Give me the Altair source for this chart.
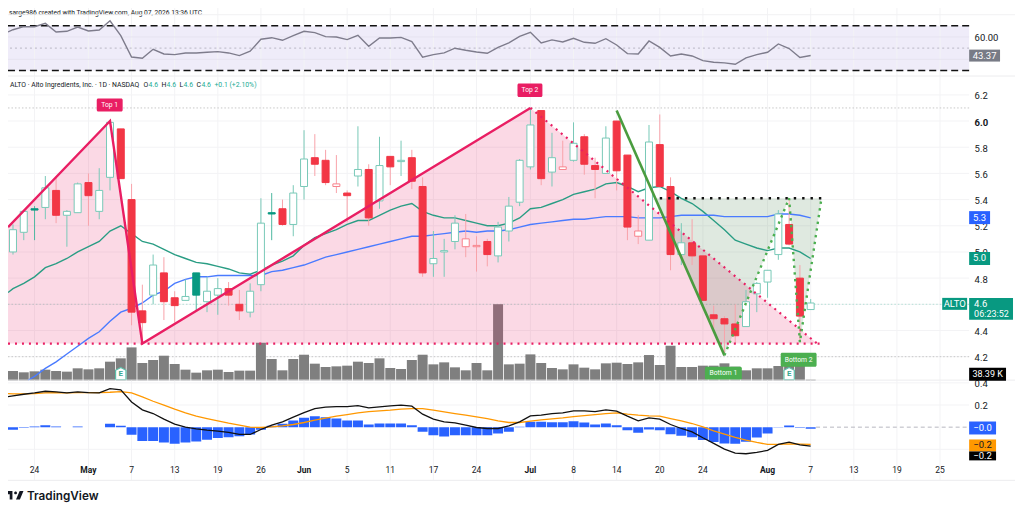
import altair as alt
import pandas as pd

FONT = "Roboto"
TEXT = "#131722"
# ---------- values ----------
body_top = [5.17,5.31,5.33,5.49,5.47,5.31,5.52,5.53,5.47,5.99,5.94,5.40,4.55,4.90,4.84,4.65,4.66,4.84,4.70,4.72,4.72,4.60,4.70,5.22,5.30,5.33,5.45,5.71,5.72,5.70,5.52,
            5.45,5.63,5.63,5.66,5.73,5.70,5.72,5.50,4.95,5.01,5.22,5.10,5.05,5.08,5.19,5.35,5.70,5.97,6.08,5.72,5.65,5.83,5.88,5.66,5.87,6.00,5.74,5.16,5.84,5.82,
            5.50,5.07,5.07,4.97,4.52,4.49,4.45,4.62,4.76,4.86,5.29,5.21,4.80,4.61]
body_bot = [5.00,5.15,5.32,5.34,5.28,5.28,5.30,5.43,5.31,5.57,5.56,4.54,4.46,4.67,4.62,4.59,4.63,4.67,4.62,4.67,4.67,4.55,4.54,4.75,5.29,5.21,5.21,5.50,5.67,5.53,5.50,
            5.43,5.58,5.26,5.39,5.65,5.69,5.54,4.84,4.91,5.00,5.08,5.04,5.04,4.98,4.97,5.16,5.38,5.65,5.56,5.61,5.63,5.70,5.67,5.63,5.60,5.62,5.19,5.12,5.09,5.50,
            4.98,4.98,4.97,4.63,4.49,4.45,4.36,4.43,4.68,4.77,4.98,5.06,4.51,4.56]
high = [5.21,5.32,5.35,5.58,5.58,5.32,5.53,5.60,5.64,6.00,5.94,5.52,4.75,4.98,4.96,4.70,4.79,4.84,4.81,4.80,4.77,4.71,4.76,5.41,5.45,5.40,5.51,5.93,5.90,5.78,5.74,
        5.47,5.96,5.67,5.88,5.73,5.85,5.78,5.57,5.16,5.10,5.28,5.29,5.12,5.10,5.23,5.42,5.71,6.10,6.08,5.91,5.85,5.99,5.90,5.72,5.96,6.00,5.74,5.28,5.97,6.05,
        5.57,5.22,5.25,4.97,4.59,4.51,4.60,4.71,4.77,4.86,5.32,5.41,4.90,4.64]
low = [4.98,5.09,5.09,5.25,5.22,5.04,5.30,5.20,5.25,5.47,5.56,4.44,4.30,4.60,4.48,4.46,4.63,4.55,4.54,4.52,4.59,4.48,4.50,4.70,5.09,5.20,5.12,5.40,5.58,5.51,5.45,
       5.23,5.50,5.20,5.33,5.51,5.58,5.48,4.81,4.81,4.81,5.02,4.96,4.85,4.89,4.92,5.08,5.35,5.63,5.51,5.50,5.63,5.69,5.59,5.41,5.60,5.47,5.09,5.06,5.09,5.49,
       4.86,4.90,4.90,4.63,4.40,4.21,4.30,4.43,4.54,4.65,4.94,5.05,4.31,4.56]
kind = ["u","u","g","u","d","u","u","d","u","u","d","d","d","u","d","d","u","g","u","u","d","d","u","u","g","d","u","u","d","d","h",
        "d","u","d","u","d","u","d","d","u","u","u","h","h","d","u","u","u","u","d","u","h","u","d","d","u","d","d","h","u","d",
        "d","u","d","d","d","d","d","u","u","u","u","d","d","u"]
volume_k = [371,320,358,422,371,346,474,435,474,730,858,1280,678,794,960,640,422,307,397,422,333,384,384,1459,832,397,832,998,653,525,550,
            576,730,678,858,486,448,794,998,627,704,512,397,678,397,2944,627,653,1011,678,486,435,627,499,435,666,691,640,704,986,602,
            1344,525,525,576,576,666,538,397,474,474,563,640,730,38.39]
ema_fast = [4.69,4.72,4.76,4.81,4.88,4.91,4.95,5.00,5.04,5.08,5.16,5.20,5.14,5.08,5.06,5.02,4.98,4.95,4.92,4.91,4.89,4.87,4.84,4.83,4.86,4.90,4.93,4.97,5.05,5.11,5.14,5.17,
            5.21,5.24,5.24,5.28,5.32,5.35,5.37,5.31,5.28,5.26,5.26,5.24,5.22,5.20,5.20,5.22,5.26,5.33,5.34,5.37,5.40,5.44,5.46,5.48,5.52,5.53,5.50,5.46,5.49,5.50,
            5.46,5.41,5.37,5.31,5.24,5.17,5.09,5.06,5.03,5.01,5.03,5.03,5.00,4.95]
ema_slow_idx = [1.4] + list(range(2, 75))
ema_slow = [4.02,4.05,4.11,4.16,4.22,4.28,4.34,4.39,4.47,4.54,4.57,4.61,4.67,4.70,4.76,4.79,4.81,4.81,4.82,4.82,4.82,4.82,4.82,4.85,4.86,4.88,4.90,4.93,4.96,4.98,
            5.00,5.02,5.04,5.06,5.08,5.10,5.12,5.12,5.13,5.14,5.15,5.16,5.15,5.16,5.16,5.17,5.19,5.21,5.22,5.23,5.24,5.25,5.25,5.26,5.27,5.27,5.27,5.26,5.26,5.26,
            5.27,5.28,5.28,5.28,5.28,5.27,5.27,5.27,5.27,5.27,5.29,5.29,5.28,5.26]
rsi = [64.4,66.4,69.1,69.1,72.1,64.4,65.0,68.8,65.3,66.1,74.4,61.1,42.1,41.0,49.0,44.8,44.2,45.7,45.7,46.3,46.9,45.7,43.3,47.2,57.9,59.3,57.0,61.1,65.0,63.8,60.2,59.9,
       57.6,61.4,51.6,59.0,59.0,59.6,55.8,41.9,44.2,45.7,49.9,48.1,46.6,45.4,50.7,54.6,
       60.5,64.1,54.6,57.3,55.5,58.7,55.2,54.3,58.4,52.8,45.1,44.8,56.4,50.7,43.0,44.8,43.0,38.9,37.4,36.8,35.6,41.3,44.2,46.3,53.7,49.6,41.6,43.37]
hist = [-.024,-.006,.006,.018,.006,0,.006,0,0,.03,.012,-.069,-.126,-.126,-.138,-.15,-.138,-.129,-.114,-.099,-.09,-.081,-.066,-.024,.012,.03,.06,.084,.099,.09,.078,
        .06,.06,.024,.033,.033,.033,.018,-.042,-.072,-.084,-.072,-.072,-.072,-.072,-.057,-.042,.003,.048,.048,.045,.045,.054,.042,.024,.033,.018,-.027,-.051,-.021,-.027,
        -.063,-.078,-.09,-.117,-.135,-.147,-.15,-.132,-.093,-.057,-.003,.015,-.006,-.015]
macd = [.275,.282,.297,.309,.324,.318,.309,.318,.312,.309,.348,.336,.228,.156,.123,.072,.027,0,-.015,-.027,-.036,-.048,-.066,-.066,-.021,.018,.048,.09,.132,.168,.18,.186,
        .186,.195,.174,.183,.192,.198,.189,.117,.072,.048,.039,.018,-.003,-.012,-.012,.012,.048,.102,.108,.123,.129,.147,.147,.141,.156,.144,.099,.057,.084,.072,
        .024,-.012,-.042,-.096,-.147,-.198,-.234,-.24,-.228,-.21,-.156,-.135,-.159,-.171]
signal = [.303,.30,.30,.303,.309,.312,.309,.312,.312,.312,.315,.321,.309,.273,.234,.198,.162,.129,.099,.078,.057,.036,.018,0,-.003,.003,.012,.024,.042,.063,.081,.099,
          .114,.129,.141,.147,.153,.162,.168,.168,.153,.138,.123,.108,.093,.078,.057,.042,.042,.054,.066,.075,.084,.096,.105,.114,.123,.129,.117,.108,.102,.099,
          .078,.057,.033,.003,-.033,-.063,-.093,-.117,-.138,-.156,-.156,-.15,-.153,-.156]
tick_idx = [2,7,11,15,19,23,27,31,35,39,43,48,52,56,60,64,70,74,78,82,86]
tick_txt = ["24","May","7","13","19","26","Jun","5","11","17","24","Jul","8","14","20","24","Aug","7","13","19","25"]
price_ticks = [4.2,4.4,4.6,4.8,5.0,5.2,5.4,5.6,5.8,6.0,6.2]
top_x, top_y = [-0.46,9,12,48,74.6], [5.19,6.0,4.3,6.1,4.3]
bot_x, bot_y = [59.6,66,72,73,75], [5.41,4.21,5.41,4.31,5.41]

# ---------- layout constants ----------
W = 964
XD = [-0.463, 88.7]
RSI_TOP, MAIN_TOP, MACD_TOP = 8, 77, 382
X = lambda f: alt.X(f, type="quantitative", scale=alt.Scale(domain=XD, nice=False, zero=False, padding=0), axis=None)
PRICE_D = [4.017, 6.34]
RSI_D = [24.67, 86.0]
MACD_D = [-0.48, 0.42]
VOL_D = [0, 11712]
Yp = lambda f: alt.Y(f, type="quantitative", scale=alt.Scale(domain=PRICE_D, nice=False, zero=False), axis=None)
Yr = lambda f: alt.Y(f, type="quantitative", scale=alt.Scale(domain=RSI_D, nice=False, zero=False), axis=None)
Ym = lambda f: alt.Y(f, type="quantitative", scale=alt.Scale(domain=MACD_D, nice=False, zero=False), axis=None)
ONE = alt.Data(values=[{"a": 1}])
LEFT_I = [-0.46] + list(range(0, 75))

def box(x0, x1, y0, y1, fill, top, r=0):
    return alt.Chart(ONE).mark_rect(fill=fill, cornerRadius=r).encode(
        x=alt.value(x0 - 8), x2=alt.value(x1 - 8), y=alt.value(y0 - top), y2=alt.value(y1 - top))

def txt(s, x, y, top, color=TEXT, size=9.5, align="left", weight="normal", font=FONT):
    return alt.Chart(ONE).mark_text(text=s, color=color, fontSize=size, align=align, baseline="middle",
                                    fontWeight=weight, font=font).encode(x=alt.value(x - 8), y=alt.value(y - top))

def hrule(x0, x1, y, top, color="#ececee"):
    return alt.Chart(ONE).mark_rule(color=color, strokeWidth=1).encode(
        x=alt.value(x0 - 8), x2=alt.value(x1 - 8), y=alt.value(y - top))

idx = list(range(75))
cd = pd.DataFrame({"i": idx, "t": body_top, "b": body_bot, "h": high, "l": low, "k": kind, "v": volume_k,
                   "hist": hist, "z": [0] * 75})
ticks = pd.DataFrame({"i": tick_idx, "txt": tick_txt})
months = ticks[ticks.txt.isin(["May", "Jun", "Jul", "Aug"])]
days = ticks[~ticks.txt.isin(["May", "Jun", "Jul", "Aug"])]
vgrid = alt.Chart(ticks).mark_rule(color="#f3f3f5", strokeWidth=1).encode(x=X("i"))

def yaxis(values, fmt, bold=False):
    kw = dict(orient="right", values=values, format=fmt, title=None, domain=False, ticks=False, grid=False,
              labelColor=TEXT, labelFontSize=9.5, labelFont=FONT, labelPadding=5, labelOverlap=False, labelOffset=1)
    if bold:
        kw["labelFontWeight"] = {"condition": {"test": "datum.value == 6", "value": "bold"}, "value": "normal"}
    return alt.Axis(**kw)

# ---------- RSI panel ----------
r_df = pd.DataFrame({"i": LEFT_I, "v": rsi})
r_bg = alt.Chart(pd.DataFrame({"a": [30], "b": [70]})).mark_rect(color="#efecf9").encode(
    y=Yr("a"), y2="b", x=alt.value(0), x2=alt.value(W))
r_axis = alt.Chart(pd.DataFrame({"v": [60, 40]})).mark_rule(color="#e6e3f0").encode(
    y=alt.Y("v:Q", scale=alt.Scale(domain=RSI_D, nice=False, zero=False), axis=yaxis([60], ".2f")))
r_mid = alt.Chart(pd.DataFrame({"v": [50]})).mark_rule(color="#b8b6c4", strokeDash=[2, 3]).encode(y=Yr("v"))
r_lim = alt.Chart(pd.DataFrame({"v": [30, 70]})).mark_rule(color="#111111", strokeWidth=1.5, strokeDash=[7, 4]).encode(y=Yr("v"))
r_line = alt.Chart(r_df).mark_line(color="#7e7c8c", strokeWidth=1.4, clip=True).encode(x=X("i"), y=Yr("v"))
rsi_panel = alt.layer(
    r_bg, vgrid, r_axis, r_mid, r_lim, r_line,
    box(972, 1003, 50, 62, "#787b86", RSI_TOP),
    txt("43.37", 987.5, 56.5, RSI_TOP, color="#ffffff", align="center"),
    txt("sarge986 created with TradingView.com, Aug 07, 2026 13:36 UTC", 9, 13, RSI_TOP, size=6.7),
    hrule(8, 1018, 15, RSI_TOP, color="#f1f1f3"),
    hrule(8, 1018, 76.5, RSI_TOP),
).resolve_scale(y="independent").properties(width=W, height=MAIN_TOP - RSI_TOP)

# ---------- main panel ----------
m_axis = alt.Chart(pd.DataFrame({"v": price_ticks})).mark_rule(color="#f3f3f5").encode(
    y=alt.Y("v:Q", scale=alt.Scale(domain=PRICE_D, nice=False, zero=False), axis=yaxis(price_ticks, ".1f", bold=True)))
lvl = alt.Chart(pd.DataFrame({"v": [6.1, 4.2]})).mark_rule(color="#c8c8c8", strokeDash=[1.5, 2]).encode(y=Yp("v"))
last = alt.Chart(pd.DataFrame({"v": [4.6]})).mark_rule(color="#b5e0d6", strokeDash=[1.5, 2]).encode(y=Yp("v"))
vol = alt.Chart(cd).mark_bar(color="#7f7f7f", size=10).encode(
    x=X("i"), y=alt.Y("v:Q", scale=alt.Scale(domain=VOL_D, nice=False, zero=False), axis=None))

top_df = pd.DataFrame({"i": top_x, "p": top_y, "base": [4.3] * len(top_x)})
bot_df = pd.DataFrame({"i": bot_x, "p": bot_y, "base": [5.41] * len(bot_x)})
top_fill = alt.Chart(top_df).mark_area(color="#e91e63", opacity=0.17, clip=True).encode(x=X("i"), y=Yp("p"), y2="base")
bot_fill = alt.Chart(bot_df).mark_area(color="#3f7a4a", opacity=0.17).encode(x=X("i"), y=Yp("p"), y2="base")

e1_df = pd.DataFrame({"i": LEFT_I, "v": ema_fast})
e2_df = pd.DataFrame({"i": ema_slow_idx, "v": ema_slow})
e1 = alt.Chart(e1_df).mark_line(color="#2a9d84", strokeWidth=1.4, clip=True).encode(x=X("i"), y=Yp("v"))
e2 = alt.Chart(e2_df).mark_line(color="#4a7bff", strokeWidth=1.4, clip=True).encode(x=X("i"), y=Yp("v"))

K = ["u", "d", "h", "g"]
wick = alt.Chart(cd).mark_rule(strokeWidth=1).encode(
    x=X("i"), y=Yp("l"), y2="h",
    color=alt.Color("k:N", scale=alt.Scale(domain=K, range=["#78c9b8", "#f8a3aa", "#f8a3aa", "#4db8a0"]), legend=None))
body = alt.Chart(cd).mark_bar(size=7, strokeWidth=1).encode(
    x=X("i"), y=Yp("t"), y2="b",
    fill=alt.Fill("k:N", scale=alt.Scale(domain=K, range=["#ffffff", "#f23645", "#ffffff", "#089981"]), legend=None),
    stroke=alt.Stroke("k:N", scale=alt.Scale(domain=K, range=["#78c9b8", "#f23645", "#f8828c", "#089981"]), legend=None))

seg = lambda xs, ys: pd.DataFrame({"i": xs, "p": ys})
zig = alt.Chart(seg(top_x[:4], top_y[:4])).mark_line(color="#e91e63", strokeWidth=2.4, clip=True).encode(x=X("i"), y=Yp("p"))
pink_dots = alt.Chart(seg(top_x[3:], top_y[3:])).mark_line(color="#e91e63", strokeWidth=2.2, strokeDash=[2, 4.6]).encode(x=X("i"), y=Yp("p"))
floor = alt.Chart(seg([-0.463, 75], [4.3, 4.3])).mark_line(color="#e91e63", strokeWidth=2.2, strokeDash=[2, 5], clip=True).encode(x=X("i"), y=Yp("p"))
green_solid = alt.Chart(seg([56, 66], [6.08, 4.21])).mark_line(color="#4a9c3f", strokeWidth=2.6).encode(x=X("i"), y=Yp("p"))
green_dots = alt.Chart(seg(bot_x[1:], bot_y[1:])).mark_line(color="#4caf50", strokeWidth=2.4, strokeDash=[2.4, 4.4]).encode(x=X("i"), y=Yp("p"))
black_dots = alt.Chart(seg([60, 75], [5.41, 5.41])).mark_line(color="#111111", strokeWidth=2.4, strokeDash=[2.4, 6]).encode(x=X("i"), y=Yp("p"))

HOUSE = "M0,-1 L0.85,-0.55 L0.85,1 L-0.85,1 L-0.85,-0.55 Z"
earn = pd.DataFrame({"i": [10, 72]})
earn_m = alt.Chart(earn).mark_point(shape=HOUSE, filled=True, fill="#ffffff", stroke="#5cbfa9", strokeWidth=1.2, opacity=1, size=150).encode(
    x=X("i"), y=alt.value(375 - MAIN_TOP))
earn_t = alt.Chart(earn).mark_text(text="E", color="#3aa88f", fontSize=8, fontWeight="bold", font=FONT, baseline="middle").encode(
    x=X("i"), y=alt.value(375.5 - MAIN_TOP))

hdr = [("ALTO · Alto Ingredients, Inc. · 1D · NASDAQ", 10, TEXT), ("O", 144, TEXT), ("4.6", 149, "#22ab94"),
       ("H", 162, TEXT), ("4.6", 167, "#22ab94"), ("L", 180, TEXT), ("4.6", 184, "#22ab94"),
       ("C", 197, TEXT), ("4.6", 202, "#22ab94"), ("+0.1 (+2.10%)", 215, "#22ab94")]
hdr_layers = [txt(s, x, 85.5, MAIN_TOP, color=c, size=6.9) for s, x, c in hdr]

flags = [("Top 1", 97, 123, 99, 112, "#e91e63"), ("Top 2", 519, 544, 84, 97.5, "#e91e63"),
         ("Bottom 1", 707, 744, 368, 381, "#4caf50"), ("Bottom 2", 783, 819, 354, 368, "#4caf50")]
flag_layers = []
for s, x0, x1, y0, y1, c in flags:
    flag_layers += [box(x0, x1, y0, y1, c, MAIN_TOP, r=1.5),
                    txt(s, (x0 + x1) / 2, (y0 + y1) / 2, MAIN_TOP, color="#ffffff", size=6.8, align="center")]

main_panel = alt.layer(
    vgrid, m_axis, lvl, last, vol, top_fill, bot_fill, e1, e2, wick, body, zig, pink_dots, floor,
    green_solid, green_dots, black_dots, earn_m, earn_t, *flag_layers, *hdr_layers,
    box(972, 993, 212, 225, "#2962ff", MAIN_TOP), txt("5.3", 982.5, 218.5, MAIN_TOP, color="#ffffff", align="center"),
    box(972, 993, 253, 266, "#089981", MAIN_TOP), txt("5.0", 982.5, 259.5, MAIN_TOP, color="#ffffff", align="center"),
    box(945, 970, 299, 311, "#089981", MAIN_TOP), txt("ALTO", 957.5, 305, MAIN_TOP, color="#ffffff", align="center"),
    box(972, 1016, 299, 321, "#089981", MAIN_TOP),
    txt("4.6", 977, 305, MAIN_TOP, color="#ffffff"), txt("06:23:52", 977, 315, MAIN_TOP, color="#ffffff", size=9),
    hrule(8, 1018, 381.5, MAIN_TOP),
).resolve_scale(y="independent").properties(width=W, height=MACD_TOP - MAIN_TOP)

# ---------- MACD panel ----------
mc_axis = alt.Chart(pd.DataFrame({"v": [0.4, 0.2, -0.2]})).mark_rule(color="#f3f3f5").encode(
    y=alt.Y("v:Q", scale=alt.Scale(domain=MACD_D, nice=False, zero=False), axis=yaxis([0.4, 0.2], ".1f")))
zero = alt.Chart(seg([74.5, XD[1]], [0, 0])).mark_line(color="#b8b8c0", strokeWidth=1, strokeDash=[4, 3]).encode(x=X("i"), y=Ym("p"))
bars = alt.Chart(cd).mark_bar(color="#2962ff", size=10, clip=True).encode(x=X("i"), y=Ym("hist"), y2="z")
l_df = pd.DataFrame({"i": LEFT_I, "m": macd, "s": signal})
l_m = alt.Chart(l_df).mark_line(color="#111111", strokeWidth=1.3, clip=True).encode(x=X("i"), y=Ym("m"))
l_s = alt.Chart(l_df).mark_line(color="#ff9800", strokeWidth=1.3, clip=True).encode(x=X("i"), y=Ym("s"))
lab_y = 472 - MACD_TOP
lab_d = alt.Chart(days).mark_text(color=TEXT, fontSize=8.5, font=FONT, baseline="middle").encode(x=X("i"), y=alt.value(lab_y), text="txt:N")
lab_m = alt.Chart(months).mark_text(color=TEXT, fontSize=8.5, font=FONT, baseline="middle", fontWeight="bold").encode(x=X("i"), y=alt.value(lab_y), text="txt:N")

LOGO = ("M-1,-0.5 L-0.3,-0.5 L-0.3,0.5 L-0.62,0.5 L-0.62,-0.12 L-1,-0.12 Z "
        "M-0.1,-0.28 A0.17,0.17 0 1 1 0.24,-0.28 A0.17,0.17 0 1 1 -0.1,-0.28 Z "
        "M0.55,-0.5 L1,-0.5 L0.58,0.5 L0.12,0.5 Z")
logo = alt.Chart(ONE).mark_point(shape=LOGO, filled=True, color="#131722", opacity=1, size=290).encode(
    x=alt.value(15 - 8), y=alt.value(497 - MACD_TOP))

macd_panel = alt.layer(
    vgrid, mc_axis, zero, bars, l_s, l_m, lab_d, lab_m,
    box(972, 1009, 369, 382, "#000000", MACD_TOP), txt("38.39 K", 990.5, 375.5, MACD_TOP, color="#ffffff", size=9, align="center"),
    box(972, 999, 423, 436, "#2962ff", MACD_TOP), txt("−0.0", 985.5, 429.5, MACD_TOP, color="#ffffff", align="center"),
    box(972, 999, 441, 453, "#ff9800", MACD_TOP), txt("−0.2", 985.5, 447, MACD_TOP, color="#131722", align="center"),
    box(972, 999, 453, 462, "#000000", MACD_TOP), txt("−0.2", 985.5, 458, MACD_TOP, color="#ffffff", align="center"),
    hrule(8, 1018, 482, MACD_TOP),
    logo,
    txt("TradingView", 27, 497.5, MACD_TOP, size=11.8, weight=600, font="Inter"),
).resolve_scale(y="independent").properties(width=W, height=100)

chart = alt.vconcat(rsi_panel, main_panel, macd_panel, spacing=0, bounds="flush").properties(
    padding={"left": -2, "top": -2, "right": 0, "bottom": 0}).configure_view(stroke=None)
chart.save("out.html", embed_options={"renderer": "svg", "actions": False})
